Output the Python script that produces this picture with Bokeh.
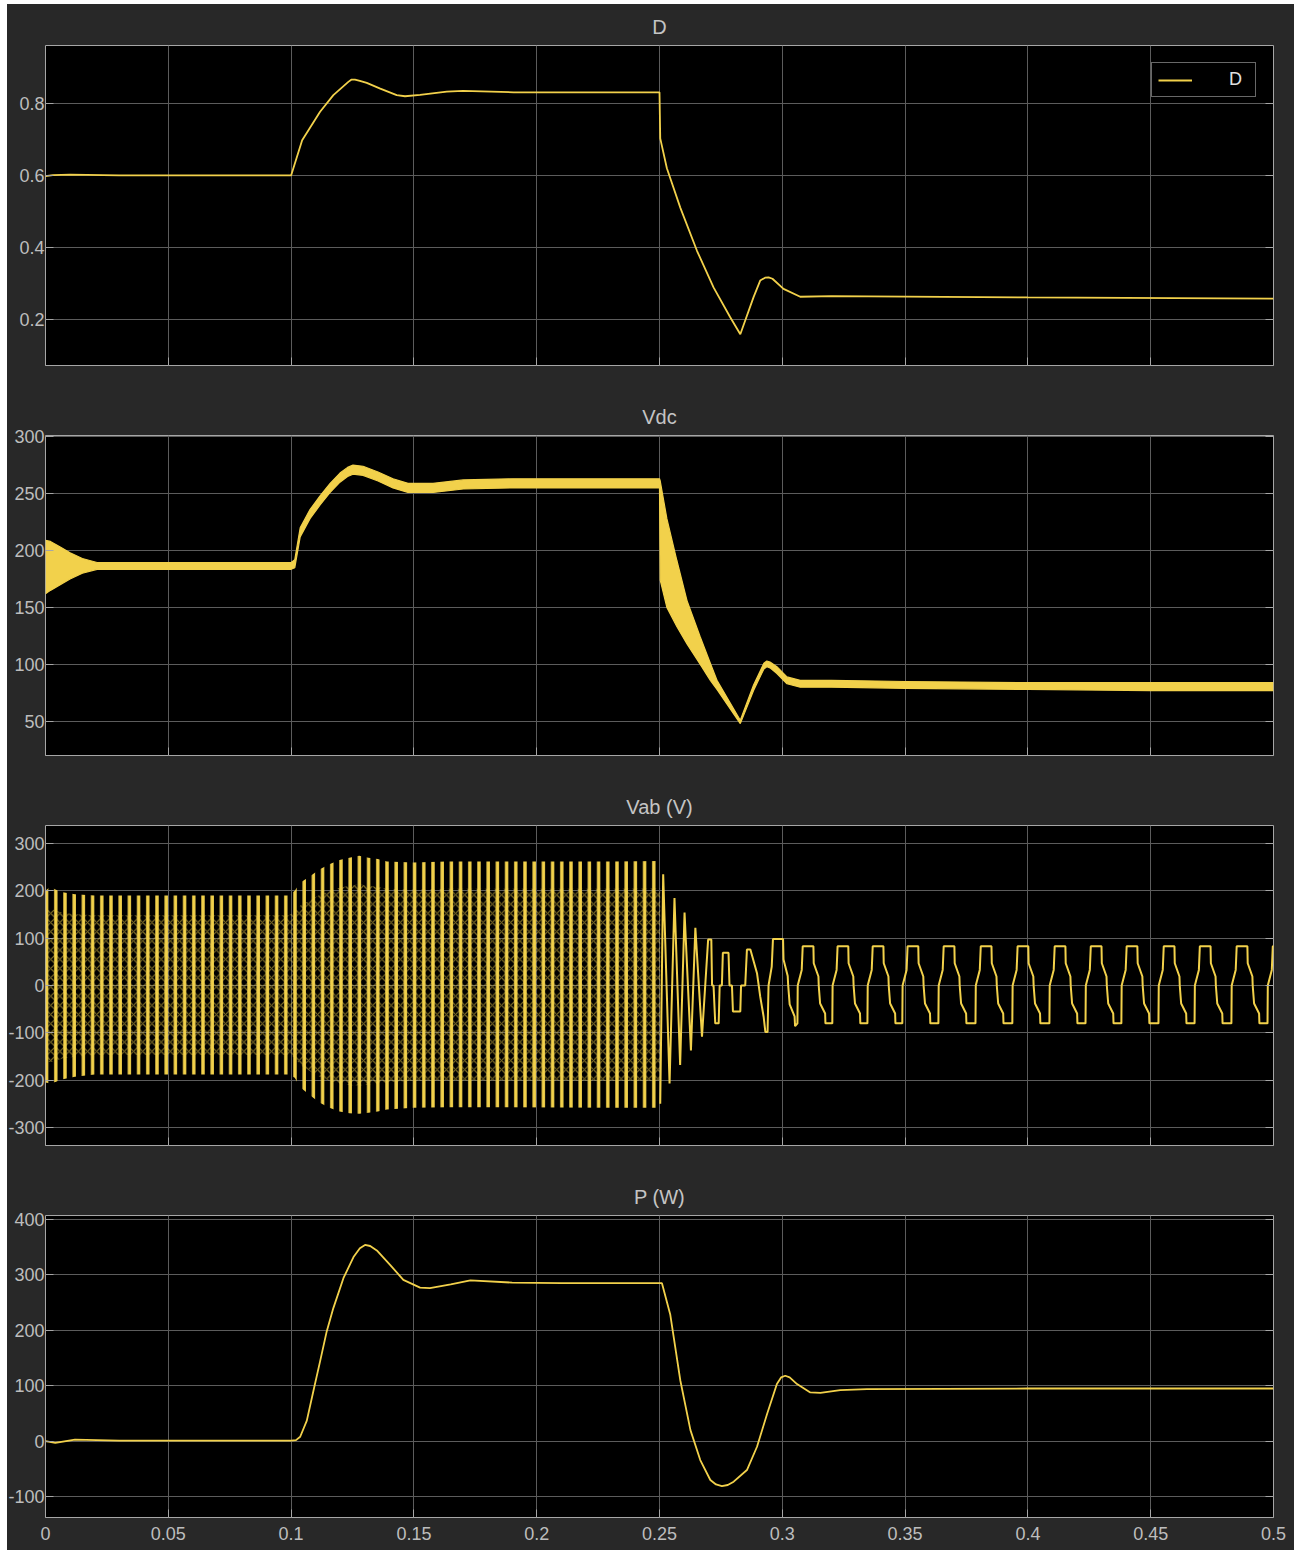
import numpy as np
from bokeh.plotting import figure
from bokeh.layouts import column
from bokeh.models import Range1d, FixedTicker, Legend, LegendItem, LinearAxis
from bokeh.embed import file_html
from bokeh.resources import INLINE

# ---------------- data ----------------
X_TICKS = [0, 0.05, 0.1, 0.15, 0.2, 0.25, 0.3, 0.35, 0.4, 0.45, 0.5]

# D (duty)
D_T = [0, 0.003, 0.01, 0.03, 0.1, 0.1045, 0.1118, 0.1172, 0.1233, 0.1245, 0.1260, 0.1280,
       0.1308, 0.1363, 0.143, 0.1464, 0.1525, 0.1634, 0.170, 0.1906, 0.2500, 0.2503, 0.253,
       0.2585, 0.2653, 0.272, 0.2788, 0.2829, 0.2883, 0.291, 0.2930, 0.2944, 0.2960, 0.3005,
       0.3073, 0.32, 0.4, 0.5]
D_V = [0.598, 0.601, 0.602, 0.600, 0.600, 0.698, 0.777, 0.823, 0.860, 0.866, 0.866, 0.863,
       0.857, 0.841, 0.823, 0.820, 0.824, 0.833, 0.835, 0.831, 0.831, 0.703, 0.620,
       0.510, 0.390, 0.289, 0.206, 0.159, 0.262, 0.308, 0.316, 0.317, 0.313, 0.285,
       0.263, 0.265, 0.261, 0.258]

# Vdc ripple band (upper / lower edge)
VDC_T = [0, 0.002, 0.006, 0.010, 0.015, 0.021, 0.100, 0.1015, 0.1037, 0.1077, 0.1118, 0.1159,
         0.1199, 0.1230, 0.1252, 0.1293, 0.1354, 0.1415, 0.1476, 0.1578, 0.1701, 0.1904, 0.2500,
         0.2503, 0.2530, 0.2571, 0.2612, 0.2666, 0.2707, 0.2734, 0.2829, 0.2883, 0.2925, 0.2937,
         0.2950, 0.2978, 0.3019, 0.3073, 0.32, 0.35, 0.40, 0.45, 0.50]
VDC_HI = [209, 208, 203, 198, 193, 189.5, 189.5, 192, 220, 236, 248, 259,
          268, 273, 275, 274, 269, 263, 259, 259, 262, 263, 263,
          261, 228, 191, 156, 124, 101, 86, 51, 82, 101, 103,
          102, 98, 89, 86, 86, 85, 84, 84, 84]
VDC_LO = [162, 165, 170, 175, 180, 183.5, 183.5, 185, 212, 228, 240, 251,
          260, 265, 267, 266, 261, 255, 251, 251, 254, 255, 255,
          174, 150, 133, 118, 100, 86, 78, 48, 77, 96, 98,
          97, 92, 83, 80, 80, 79, 78, 77, 77]

# Vab: envelope of the dense oscillation (0 .. 0.25 s)
VAB_ENV_T = [0, 0.002, 0.004, 0.007, 0.012, 0.020, 0.099, 0.1015, 0.1037, 0.1077, 0.1115,
             0.1156, 0.1197, 0.1237, 0.1277, 0.1315, 0.1353, 0.139, 0.1498, 0.1634, 0.2313, 0.2503]
VAB_ENV_HI = [200, 209, 203, 197, 193, 190, 190, 200, 217, 231, 245,
              256, 265, 270, 274, 270, 267, 262, 260, 262, 262, 263]
VAB_ENV_LO = [-205, -207, -204, -198, -193, -188, -188, -195, -215, -232, -247,
              -258, -266, -270, -271, -269, -266, -262, -258, -257, -258, -258]

# Vab: decaying transition (0.25 .. 0.306 s)
VAB_TR_T = [0.2503, 0.2515, 0.2541, 0.2561, 0.2584, 0.2602, 0.2628, 0.2646, 0.2673,
            0.2698, 0.2711, 0.2714, 0.2720, 0.2727, 0.2741, 0.2745, 0.2754,
            0.2758, 0.2781, 0.2785, 0.2795, 0.2799, 0.2829, 0.2832, 0.2849,
            0.2856, 0.2870, 0.2897, 0.2910, 0.2924, 0.2931, 0.2940, 0.2944,
            0.2957, 0.2962, 0.3003, 0.3005, 0.3022, 0.3024, 0.3030, 0.3050, 0.3052]
VAB_TR_V = [-250, 235, -207, 185, -168, 154, -137, 122, -108,
            97, 97, 0, 0, -80, -80, 0, 0,
            69, 69, 0, 0, -55, -55, 0, 0,
            76, 76, 26, -23, -66, -98, -98, 0,
            40, 98, 98, 55, 20, 0, -40, -65, -86]

# Vab: steady quasi-square wave, one cycle shape and cycle start times
VAB_CYCLE_T0 = [0.3086, 0.3228, 0.3371, 0.3513, 0.3660, 0.3811, 0.3961, 0.4112,
                0.4259, 0.4405, 0.4556, 0.4703, 0.4853, 0.5000]
VAB_CYCLE_DT = [-0.00244, -0.00232, -0.00069, -0.00029, 0.00407, 0.00420, 0.00611,
                0.00623, 0.00680, 0.00884, 0.00896]
VAB_CYCLE_V = [-80, 0, 33, 83, 83, 47, 19, 0, -38, -59, -80]

# P (W)
P_T = [0, 0.004, 0.012, 0.03, 0.1, 0.102, 0.1037, 0.1064, 0.1091, 0.1118, 0.1145, 0.1172,
       0.1213, 0.1254, 0.1280, 0.1301, 0.1322, 0.1349, 0.1403, 0.1457, 0.1525, 0.1565, 0.165,
       0.173, 0.19, 0.21, 0.251, 0.2544, 0.2585, 0.2626, 0.2666, 0.2707, 0.2730, 0.2754,
       0.2778, 0.2802, 0.2856, 0.2897, 0.2938, 0.2978, 0.2995, 0.3012, 0.3030, 0.306, 0.3114,
       0.3155, 0.3236, 0.3345, 0.4, 0.5]
P_V = [0, -3, 3, 1, 1, 2, 8, 37, 91, 144, 198, 240,
       294, 332, 348, 354, 352, 344, 318, 291, 277, 276, 283,
       290, 286, 285, 285, 228, 109, 20, -34, -70, -78, -81,
       -79, -73, -52, -10, 49, 103, 115, 118, 115, 103, 88,
       87, 92, 94, 95, 95]

# ---------------- styling ----------------
BG = "#282828"
FRAME = "#000000"
GRID = "#5c5c5c"
OUTLINE = "#a6a6a6"
TXT = "#bdbdbd"
TRACE = "#f2d14b"
FONT = "Liberation Sans"


def tick_text(v):
    return "%g" % v


def make_fig(title, yr, yticks, frame_h, top, bottom, xlabels):
    p = figure(frame_width=1240, frame_height=frame_h,
               x_range=Range1d(0, 0.5), y_range=Range1d(*yr),
               output_backend="svg", toolbar_location=None,
               min_border_left=50, min_border_right=21,
               min_border_top=top, min_border_bottom=bottom,
               margin=(0, 0, 0, -12))
    p.background_fill_color = FRAME
    p.border_fill_color = BG
    p.outline_line_color = OUTLINE
    p.outline_line_width = 1
    p.title.text = title
    p.title.align = "center"
    p.title.text_font = FONT
    p.title.text_font_size = "20px"
    p.title.text_font_style = "normal"
    p.title.text_color = "#c4c4c4"
    p.title.standoff = 16

    p.xaxis.ticker = FixedTicker(ticks=X_TICKS)
    p.yaxis.ticker = FixedTicker(ticks=yticks)
    for ax in p.xaxis + p.yaxis:
        ax.axis_line_color = None
        ax.major_tick_line_color = OUTLINE
        ax.major_tick_in = 8
        ax.major_tick_out = 0
        ax.minor_tick_line_color = None
        ax.major_label_text_font = FONT
        ax.major_label_text_font_size = "18px"
        ax.major_label_text_color = TXT
    p.yaxis.major_label_standoff = 1
    p.yaxis.major_label_overrides = {t: tick_text(t) for t in yticks}
    p.xaxis.major_label_standoff = 9
    if xlabels:
        p.xaxis.major_label_overrides = {t: tick_text(t) for t in X_TICKS}
    else:
        p.xaxis.major_label_overrides = {t: "" for t in X_TICKS}
        p.xaxis.major_label_standoff = 0

    ra = LinearAxis(ticker=FixedTicker(ticks=yticks), axis_line_color=None,
                    major_tick_line_color=OUTLINE, major_tick_in=8, major_tick_out=0,
                    minor_tick_line_color=None, major_label_standoff=0,
                    major_label_overrides={t: "" for t in yticks})
    p.add_layout(ra, "right")

    p.xgrid.grid_line_color = GRID
    p.ygrid.grid_line_color = GRID
    p.xgrid.grid_line_width = 1
    p.ygrid.grid_line_width = 1
    return p


# Panel 1: D
p1 = make_fig("D", (0.072, 0.961), [0.2, 0.4, 0.6, 0.8], 320, 41, 29, False)
d_line = p1.line(D_T, D_V, line_color=TRACE, line_width=1.8)
leg = Legend(items=[LegendItem(label="D", renderers=[d_line])], location="top_right")
leg.background_fill_color = "black"
leg.background_fill_alpha = 1
leg.border_line_color = "#d0d0d0"
leg.border_line_width = 1
leg.label_text_color = "#e0e0e0"
leg.label_text_font = FONT
leg.label_text_font_size = "18px"
leg.glyph_width = 34
leg.glyph_height = 20
leg.label_standoff = 37
leg.label_height = 20
leg.padding = 6
leg.margin = 17
p1.add_layout(leg)

# Panel 2: Vdc
p2 = make_fig("Vdc", (20, 301), [50, 100, 150, 200, 250, 300], 320, 41, 29, False)
p2.varea(x=VDC_T, y1=VDC_LO, y2=VDC_HI, fill_color=TRACE, fill_alpha=1)
p2.line(VDC_T, VDC_HI, line_color=TRACE, line_width=1.2)
p2.line(VDC_T, VDC_LO, line_color=TRACE, line_width=1.2)

# Panel 3: Vab
p3 = make_fig("Vab (V)", (-338, 338), [-300, -200, -100, 0, 100, 200, 300], 320, 41, 29, False)
p3.varea(x=VAB_ENV_T, y1=VAB_ENV_LO, y2=VAB_ENV_HI, fill_color=None,
         hatch_pattern="vertical_line", hatch_color=TRACE, hatch_weight=3.4, hatch_scale=9.2)
mid_lo = [v * 0.78 for v in VAB_ENV_LO]
mid_hi = [v * 0.78 for v in VAB_ENV_HI]
p3.varea(x=VAB_ENV_T, y1=mid_lo, y2=mid_hi, fill_color=None,
         hatch_pattern="diagonal_cross", hatch_color=TRACE, hatch_alpha=0.5,
         hatch_weight=1.2, hatch_scale=9.2)

sq_t = list(VAB_TR_T)
sq_v = list(VAB_TR_V)
for t0 in VAB_CYCLE_T0:
    sq_t += [t0 + d for d in VAB_CYCLE_DT]
    sq_v += VAB_CYCLE_V
p3.line(sq_t, sq_v, line_color=TRACE, line_width=2)

# Panel 4: P
p4 = make_fig("P (W)", (-137.6, 407), [-100, 0, 100, 200, 300, 400], 302, 41, 33, True)
p4.line(P_T, P_V, line_color=TRACE, line_width=1.8)

layout = column(p1, p2, p3, p4, spacing=0, margin=(4, 0, 0, 7),
                styles={"overflow": "hidden", "background-color": BG,
                        "clip-path": "inset(0px 12px 0px 0px)"})
open("out.html", "w").write(file_html(layout, INLINE))
